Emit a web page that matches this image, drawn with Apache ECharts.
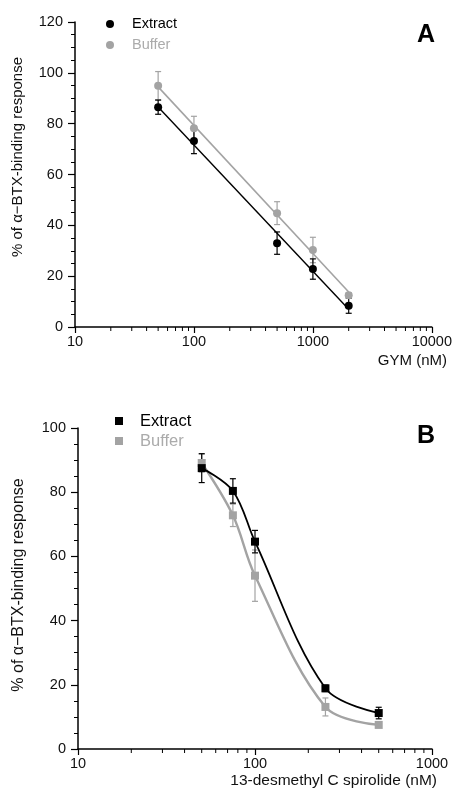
<!DOCTYPE html>
<html><head><meta charset="utf-8">
<script src="https://cdn.jsdelivr.net/npm/echarts@6/dist/echarts.min.js"></script>
<style>html,body{margin:0;padding:0;background:#fff}#c{width:455px;height:790px}</style>
</head><body><div id="c"></div>
<script>
// ---- Panel A data (GYM, nM) ----
const concA = [50, 100, 500, 1000, 2000];
const extractA = [86.5, 73.2, 33.0, 22.8, 8.4];
const extractAErr = [2.8, 5.0, 4.4, 4.0, 3.0];
const bufferA = [94.9, 78.2, 44.8, 30.3, 12.5];
const bufferAErr = [5.6, 4.7, 4.5, 5.0, 1.0];
const xTicksA = [10, 100, 1000, 10000];
const yTicksA = [0, 20, 40, 60, 80, 100, 120];

// ---- Panel B data (13-desmethyl C spirolide, nM) ----
const concB = [50, 75, 100, 250, 500];
const extractB = [87.5, 80.4, 64.6, 18.9, 11.2];
const extractBErr = [4.5, 3.8, 3.5, 1.0, 1.8];
const bufferB = [89.1, 72.8, 54.0, 13.1, 7.5];
const bufferBErr = [2.8, 3.5, 8.0, 2.8, 0.6];
const xTicksB = [10, 100, 1000];
const yTicksB = [0, 20, 40, 60, 80, 100];

const BLACK = '#000000';
const GRAY = '#a3a3a3';
const FONT = 'Liberation Sans, Arial, Helvetica, sans-serif';

function minorLogTicks(majors) {
  const out = [];
  for (let i = 0; i < majors.length - 1; i++) {
    for (let k = 2; k <= 9; k++) out.push(majors[i] * k);
  }
  return out;
}

function linFitLog(xs, ys) {
  const lx = xs.map(Math.log10);
  const n = xs.length;
  const mx = lx.reduce((a, b) => a + b, 0) / n;
  const my = ys.reduce((a, b) => a + b, 0) / n;
  let sxy = 0, sxx = 0;
  for (let i = 0; i < n; i++) { sxy += (lx[i] - mx) * (ys[i] - my); sxx += (lx[i] - mx) ** 2; }
  const b = sxy / sxx, a = my - b * mx;
  return [[xs[0], a + b * lx[0]], [xs[n - 1], a + b * lx[n - 1]]];
}

function errSeries(xi, xs, ys, errs, color, capW) {
  return {
    type: 'custom', xAxisIndex: xi, yAxisIndex: xi, silent: true, z: 3,
    data: xs.map((x, i) => [x, ys[i], errs[i]]),
    encode: { x: 0, y: 1 },
    renderItem(params, api) {
      const x = api.value(0), y = api.value(1), e = api.value(2);
      const hi = api.coord([x, y + e]), lo = api.coord([x, y - e]);
      const h = capW / 2;
      const st = { stroke: color, lineWidth: 1.2 };
      return { type: 'group', children: [
        { type: 'line', shape: { x1: hi[0], y1: hi[1], x2: lo[0], y2: lo[1] }, style: st },
        { type: 'line', shape: { x1: hi[0] - h, y1: hi[1], x2: hi[0] + h, y2: hi[1] }, style: st },
        { type: 'line', shape: { x1: lo[0] - h, y1: lo[1], x2: lo[0] + h, y2: lo[1] }, style: st }
      ]};
    }
  };
}

function minorTickSeries(xi, vals) {
  return {
    type: 'custom', xAxisIndex: xi, yAxisIndex: xi, silent: true, clip: false, z: 1,
    data: vals.map(v => [v, 0]),
    encode: { x: 0, y: 1 },
    renderItem(params, api) {
      const p = api.coord([api.value(0), 0]);
      return { type: 'line', shape: { x1: p[0], y1: p[1], x2: p[0], y2: p[1] + 4 },
        style: { stroke: BLACK, lineWidth: 1 } };
    }
  };
}

const axisLine = { show: true, lineStyle: { color: BLACK, width: 1.5 } };
const labelStyle = { color: '#111', fontFamily: FONT, fontSize: 14.5 };

function xAxisDef(grid, ticks) {
  return {
    type: 'log', logBase: 10, gridIndex: grid,
    min: ticks[0], max: ticks[ticks.length - 1],
    axisLine: axisLine,
    axisTick: { show: true, length: 6, lineStyle: { color: BLACK, width: 1.2 } },
    axisLabel: Object.assign({ margin: 7, formatter: v => String(Math.round(v)) }, labelStyle),
    splitLine: { show: false }, minorTick: { show: false }
  };
}
function yAxisDef(grid, ticks) {
  return {
    type: 'value', gridIndex: grid,
    min: ticks[0], max: ticks[ticks.length - 1], interval: ticks[1] - ticks[0],
    axisLine: axisLine,
    axisTick: { show: true, length: 7, lineStyle: { color: BLACK, width: 1.2 } },
    minorTick: { show: true, splitNumber: 4, length: 4, lineStyle: { color: BLACK, width: 1 } },
    axisLabel: Object.assign({ margin: 12 }, labelStyle),
    splitLine: { show: false }
  };
}

const option = {
  animation: false,
  backgroundColor: '#fff',
  grid: [
    { left: 75, top: 22, width: 368, height: 305 },
    { left: 78, top: 428, width: 354, height: 321 }
  ],
  xAxis: [xAxisDef(0, xTicksA), xAxisDef(1, xTicksB)],
  yAxis: [yAxisDef(0, yTicksA), yAxisDef(1, yTicksB)],
  series: [
    minorTickSeries(0, minorLogTicks(xTicksA)),
    minorTickSeries(1, minorLogTicks(xTicksB)),
    // Panel A fit lines
    { type: 'line', xAxisIndex: 0, yAxisIndex: 0, data: linFitLog(concA, bufferA), symbol: 'none',
      lineStyle: { color: GRAY, width: 1.6 }, silent: true, z: 2 },
    { type: 'line', xAxisIndex: 0, yAxisIndex: 0, data: linFitLog(concA, extractA), symbol: 'none',
      lineStyle: { color: BLACK, width: 1.4 }, silent: true, z: 2 },
    errSeries(0, concA, bufferA, bufferAErr, GRAY, 6),
    errSeries(0, concA, extractA, extractAErr, BLACK, 6),
    { type: 'scatter', name: 'Buffer A', xAxisIndex: 0, yAxisIndex: 0, symbol: 'circle', symbolSize: 8,
      data: concA.map((x, i) => [x, bufferA[i]]), itemStyle: { color: GRAY, opacity: 1 }, z: 4 },
    { type: 'scatter', name: 'Extract A', xAxisIndex: 0, yAxisIndex: 0, symbol: 'circle', symbolSize: 8,
      data: concA.map((x, i) => [x, extractA[i]]), itemStyle: { color: BLACK, opacity: 1 }, z: 5 },
    // Panel B curves
    { type: 'line', xAxisIndex: 1, yAxisIndex: 1, data: concB.map((x, i) => [x, bufferB[i]]), symbol: 'none',
      smooth: 0.35, lineStyle: { color: GRAY, width: 2.4 }, silent: true, z: 2 },
    { type: 'line', xAxisIndex: 1, yAxisIndex: 1, data: concB.map((x, i) => [x, extractB[i]]), symbol: 'none',
      smooth: 0.35, lineStyle: { color: BLACK, width: 1.8 }, silent: true, z: 2 },
    errSeries(1, concB, bufferB, bufferBErr, GRAY, 6),
    errSeries(1, concB, extractB, extractBErr, BLACK, 6),
    { type: 'scatter', name: 'Buffer B', xAxisIndex: 1, yAxisIndex: 1, symbol: 'rect', symbolSize: 8,
      data: concB.map((x, i) => [x, bufferB[i]]), itemStyle: { color: GRAY, opacity: 1 }, z: 4 },
    { type: 'scatter', name: 'Extract B', xAxisIndex: 1, yAxisIndex: 1, symbol: 'rect', symbolSize: 8,
      data: concB.map((x, i) => [x, extractB[i]]), itemStyle: { color: BLACK, opacity: 1 }, z: 5 }
  ],
  graphic: [
    // Panel A legend
    { type: 'circle', shape: { cx: 110, cy: 24, r: 4 }, style: { fill: BLACK } },
    { type: 'text', x: 132, y: 24, style: { text: 'Extract', fill: BLACK, font: '14.5px ' + FONT, verticalAlign: 'middle' } },
    { type: 'circle', shape: { cx: 110, cy: 45, r: 4 }, style: { fill: GRAY } },
    { type: 'text', x: 132, y: 45, style: { text: 'Buffer', fill: '#ababab', font: '14.5px ' + FONT, verticalAlign: 'middle' } },
    // Panel A label
    { type: 'text', x: 426, y: 35, style: { text: 'A', fill: BLACK, font: 'bold 25px ' + FONT, align: 'center', verticalAlign: 'middle' } },
    // Panel A axis titles
    { type: 'text', x: 447, y: 361, style: { text: 'GYM (nM)', fill: '#111', font: '15px ' + FONT, align: 'right', verticalAlign: 'middle' } },
    { type: 'text', x: 18, y: 157, rotation: Math.PI / 2, style: { text: '% of α−BTX-binding response', fill: '#111', font: '15px ' + FONT, align: 'center', verticalAlign: 'middle' } },
    // Panel B legend
    { type: 'rect', shape: { x: 115, y: 417, width: 8, height: 8 }, style: { fill: BLACK } },
    { type: 'text', x: 140, y: 421, style: { text: 'Extract', fill: BLACK, font: '16.5px ' + FONT, verticalAlign: 'middle' } },
    { type: 'rect', shape: { x: 115, y: 437, width: 8, height: 8 }, style: { fill: GRAY } },
    { type: 'text', x: 140, y: 441, style: { text: 'Buffer', fill: '#ababab', font: '16.5px ' + FONT, verticalAlign: 'middle' } },
    // Panel B label
    { type: 'text', x: 426, y: 436, style: { text: 'B', fill: BLACK, font: 'bold 25px ' + FONT, align: 'center', verticalAlign: 'middle' } },
    // Panel B axis titles
    { type: 'text', x: 437, y: 781, style: { text: '13-desmethyl C spirolide (nM)', fill: '#111', font: '15.5px ' + FONT, align: 'right', verticalAlign: 'middle' } },
    { type: 'text', x: 19, y: 585, rotation: Math.PI / 2, style: { text: '% of α−BTX-binding response', fill: '#111', font: '16px ' + FONT, align: 'center', verticalAlign: 'middle' } }
  ]
};

const chart = echarts.init(document.getElementById('c'), null, { renderer: 'canvas' });
chart.setOption(option);
</script>
</body></html>
